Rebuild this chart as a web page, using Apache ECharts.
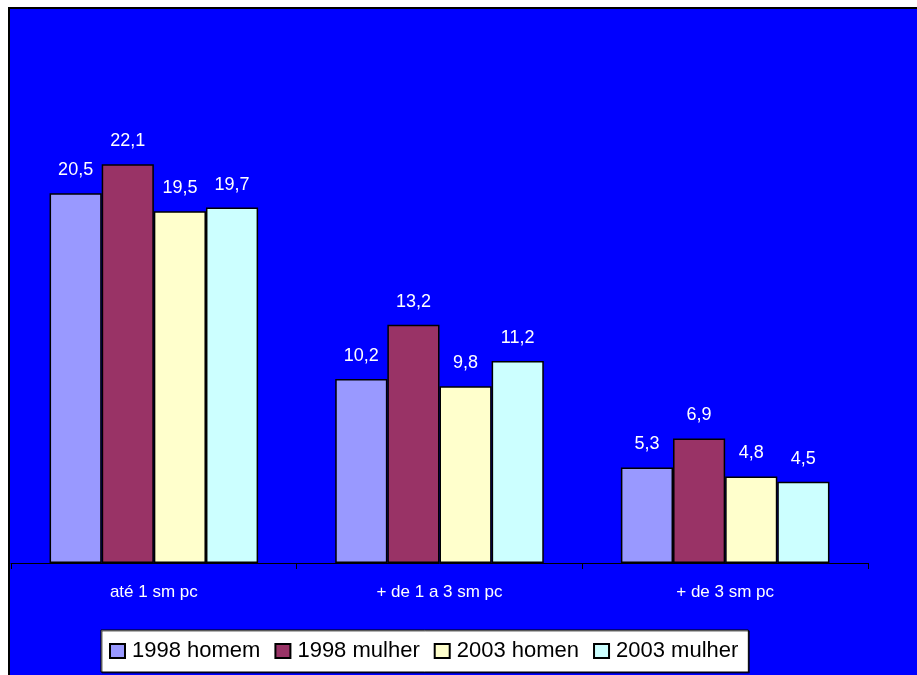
<!DOCTYPE html>
<html><head><meta charset="utf-8">
<script src="https://cdn.jsdelivr.net/npm/echarts@6/dist/echarts.min.js"></script>
<style>html,body{margin:0;padding:0;background:#fff}#c{width:917px;height:675px}</style>
</head><body><div id="c"></div>
<script>
const categories = ['até 1 sm pc', '+ de 1 a 3 sm pc', '+ de 3 sm pc'];
const seriesNames = ['1998 homem', '1998 mulher', '2003 homen', '2003 mulher'];
const h1998 = [20.5, 10.2, 5.3];
const m1998 = [22.1, 13.2, 6.9];
const h2003 = [19.5, 9.8, 4.8];
const m2003 = [19.7, 11.2, 4.5];
const colors = ['#9999FF', '#993366', '#FFFFCC', '#CCFFFF'];
const allData = [h1998, m1998, h2003, m2003];
const FONT = 'Liberation Sans, Arial, sans-serif';

const chart = echarts.init(document.getElementById('c'));
chart.setOption({
  animation: false,
  backgroundColor: '#ffffff',
  textStyle: { fontFamily: FONT },
  graphic: [{
    type: 'rect', z: -10, silent: true,
    shape: { x: 9, y: 8, width: 912, height: 672 },
    style: { fill: '#0000FF', stroke: '#000000', lineWidth: 2 }
  }],
  grid: { left: 11, right: 49, top: 130, bottom: 112, containLabel: false },
  xAxis: {
    type: 'category', data: categories,
    axisLine: { lineStyle: { color: '#000000', width: 1 } },
    axisTick: { show: true, length: 6, lineStyle: { color: '#000000' } },
    axisLabel: { color: '#ffffff', fontSize: 17, margin: 21, fontFamily: FONT }
  },
  yAxis: {
    type: 'value', min: 0, max: 24, show: false, splitLine: { show: false }
  },
  legend: {
    data: seriesNames, left: 101, top: 630,
    backgroundColor: '#ffffff', borderColor: '#000000', borderWidth: 1,
    padding: [10, 10, 10, 8], itemGap: 14, itemWidth: 15, itemHeight: 14,
    shadowColor: 'rgba(0,0,0,0.6)', shadowOffsetX: 1, shadowOffsetY: 1,
    textStyle: { color: '#000000', fontSize: 22, padding: [0, 0, 0, 2], fontFamily: FONT },
    icon: 'rect'
  },
  series: seriesNames.map((name, i) => ({
    name: name, type: 'bar', data: allData[i],
    barGap: '0%', barCategoryGap: '27%',
    itemStyle: { color: colors[i], borderColor: '#000000', borderWidth: 1.5 },
    label: {
      show: true, position: 'top', distance: 14, color: '#ffffff', fontSize: 18,
      fontFamily: FONT,
      formatter: p => String(p.value).replace('.', ',')
    }
  }))
});
</script></body></html>
